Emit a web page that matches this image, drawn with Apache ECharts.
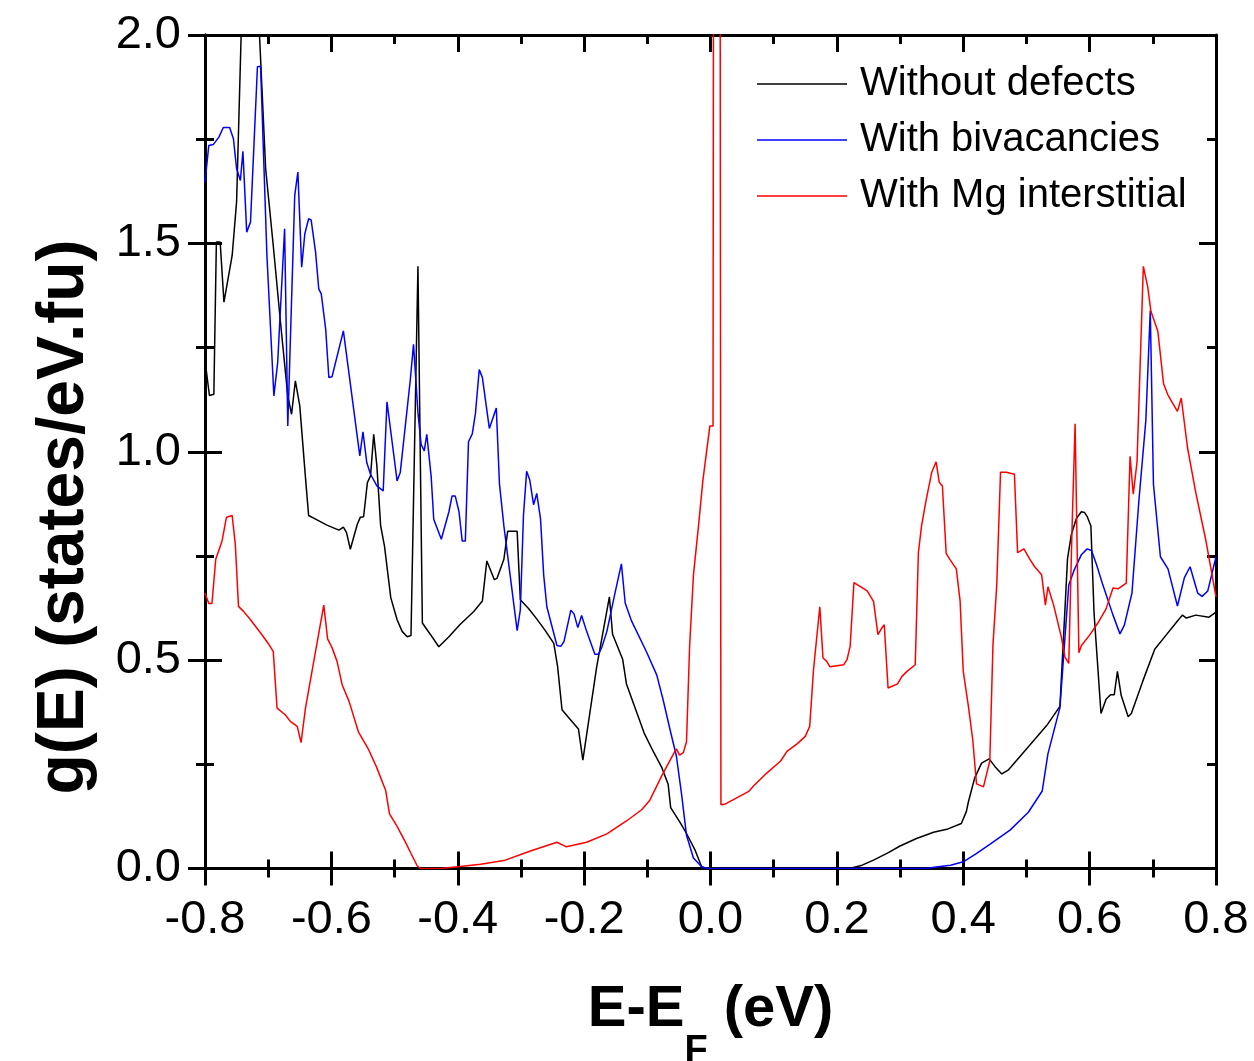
<!DOCTYPE html>
<html>
<head>
<meta charset="utf-8">
<script src="https://cdn.jsdelivr.net/npm/echarts@6/dist/echarts.min.js"></script>
<style>
  html, body { margin: 0; padding: 0; background: #fff; }
  #chart { width: 1254px; height: 1061px; }
</style>
</head>
<body>
<div id="chart"></div>
<script>
// series names
const seriesNames = ['Without defects', 'With bivacancies', 'With Mg interstitial']

// [E-EF (eV), g(E)]
const withoutDefects = [
    [-0.800, 1.22], [-0.793, 1.135], [-0.786, 1.138], [-0.782, 1.503], [-0.776, 1.503],
    [-0.770, 1.359], [-0.757, 1.471], [-0.750, 1.600], [-0.732, 2.6], [-0.704, 1.679],
    [-0.692, 1.495], [-0.681, 1.318], [-0.669, 1.134], [-0.663, 1.090], [-0.657, 1.170],
    [-0.650, 1.110], [-0.641, 0.938], [-0.636, 0.847], [-0.622, 0.836], [-0.607, 0.824],
    [-0.588, 0.812], [-0.581, 0.819], [-0.576, 0.806], [-0.570, 0.766], [-0.559, 0.826],
    [-0.554, 0.843], [-0.549, 0.844], [-0.543, 0.926], [-0.538, 0.942], [-0.533, 1.042],
    [-0.528, 0.966], [-0.522, 0.822], [-0.516, 0.774], [-0.506, 0.650], [-0.496, 0.597],
    [-0.488, 0.569], [-0.480, 0.556], [-0.474, 0.559], [-0.463, 1.445], [-0.456, 0.589],
    [-0.443, 0.561], [-0.430, 0.532], [-0.414, 0.556], [-0.396, 0.586], [-0.375, 0.616],
    [-0.361, 0.642], [-0.354, 0.738], [-0.342, 0.693], [-0.338, 0.696], [-0.327, 0.742],
    [-0.321, 0.809], [-0.306, 0.809], [-0.301, 0.645], [-0.288, 0.624], [-0.275, 0.599],
    [-0.262, 0.572], [-0.248, 0.540], [-0.242, 0.485], [-0.235, 0.381], [-0.225, 0.363],
    [-0.209, 0.335], [-0.202, 0.260], [-0.180, 0.485], [-0.160, 0.652], [-0.155, 0.562],
    [-0.139, 0.502], [-0.133, 0.443], [-0.119, 0.384], [-0.105, 0.325], [-0.091, 0.282],
    [-0.077, 0.242], [-0.067, 0.202], [-0.063, 0.146], [-0.048, 0.110], [-0.038, 0.084],
    [-0.025, 0.046], [-0.014, 0.004], [-0.006, 0], [0.220, 0], [0.240, 0.008],
    [0.258, 0.020], [0.280, 0.037], [0.300, 0.054], [0.326, 0.072], [0.353, 0.087],
    [0.374, 0.094], [0.397, 0.108], [0.405, 0.137], [0.408, 0.159], [0.418, 0.217],
    [0.429, 0.253], [0.441, 0.263], [0.450, 0.245], [0.461, 0.227], [0.471, 0.236],
    [0.500, 0.287], [0.532, 0.343], [0.553, 0.389], [0.561, 0.623], [0.565, 0.743],
    [0.571, 0.801], [0.579, 0.840], [0.587, 0.856], [0.592, 0.854], [0.596, 0.845],
    [0.602, 0.822], [0.607, 0.613], [0.618, 0.372], [0.626, 0.406], [0.633, 0.417],
    [0.639, 0.417], [0.644, 0.473], [0.650, 0.415], [0.661, 0.364], [0.666, 0.372],
    [0.684, 0.449], [0.703, 0.526], [0.721, 0.560], [0.739, 0.594], [0.747, 0.608],
    [0.753, 0.601], [0.768, 0.608], [0.789, 0.603], [0.800, 0.615],
]

const withBivacancies = [
    [-0.800, 1.647], [-0.794, 1.735], [-0.787, 1.737], [-0.778, 1.755], [-0.771, 1.778],
    [-0.761, 1.778], [-0.755, 1.751], [-0.750, 1.679], [-0.744, 1.651], [-0.740, 1.721],
    [-0.734, 1.527], [-0.728, 1.551], [-0.717, 1.924], [-0.712, 1.925], [-0.702, 1.471],
    [-0.691, 1.134], [-0.685, 1.214], [-0.674, 1.535], [-0.669, 1.062], [-0.658, 1.615],
    [-0.653, 1.671], [-0.647, 1.443], [-0.642, 1.523], [-0.636, 1.559], [-0.632, 1.556],
    [-0.625, 1.479], [-0.620, 1.391], [-0.616, 1.379], [-0.609, 1.294], [-0.604, 1.178],
    [-0.599, 1.180], [-0.581, 1.290], [-0.555, 0.990], [-0.550, 1.048], [-0.544, 0.974],
    [-0.538, 0.946], [-0.528, 0.918], [-0.518, 0.906], [-0.512, 1.120], [-0.496, 0.930],
    [-0.491, 0.950], [-0.475, 1.174], [-0.470, 1.258], [-0.463, 1.094], [-0.458, 1.018],
    [-0.453, 1.002], [-0.449, 1.042], [-0.442, 0.939], [-0.438, 0.838], [-0.426, 0.790],
    [-0.414, 0.856], [-0.409, 0.894], [-0.404, 0.894], [-0.398, 0.856], [-0.393, 0.786],
    [-0.388, 0.786], [-0.383, 1.024], [-0.377, 1.043], [-0.372, 1.092], [-0.366, 1.197],
    [-0.361, 1.178], [-0.350, 1.056], [-0.339, 1.105], [-0.334, 0.923], [-0.327, 0.822],
    [-0.306, 0.571], [-0.301, 0.620], [-0.296, 0.847], [-0.291, 0.953], [-0.286, 0.932],
    [-0.280, 0.873], [-0.275, 0.900], [-0.269, 0.839], [-0.264, 0.704], [-0.259, 0.628],
    [-0.243, 0.535], [-0.237, 0.533], [-0.232, 0.544], [-0.221, 0.620], [-0.216, 0.611],
    [-0.210, 0.578], [-0.204, 0.607], [-0.196, 0.569], [-0.183, 0.514], [-0.177, 0.514],
    [-0.172, 0.531], [-0.164, 0.569], [-0.151, 0.662], [-0.141, 0.731], [-0.135, 0.637],
    [-0.125, 0.594], [-0.101, 0.519], [-0.085, 0.464], [-0.075, 0.405], [-0.064, 0.333],
    [-0.054, 0.270], [-0.046, 0.181], [-0.038, 0.080], [-0.027, 0.025], [-0.014, 0.004],
    [-0.006, 0], [0.340, 0], [0.360, 0.004], [0.380, 0.008], [0.400, 0.016],
    [0.420, 0.035], [0.442, 0.058], [0.474, 0.092], [0.503, 0.135], [0.525, 0.186],
    [0.534, 0.275], [0.553, 0.386], [0.561, 0.555], [0.567, 0.680], [0.575, 0.714],
    [0.587, 0.753], [0.596, 0.767], [0.603, 0.763], [0.611, 0.729], [0.621, 0.680],
    [0.637, 0.608], [0.648, 0.563], [0.655, 0.584], [0.667, 0.661], [0.678, 0.883],
    [0.689, 1.076], [0.696, 1.339], [0.701, 0.922], [0.712, 0.748], [0.724, 0.719],
    [0.739, 0.630], [0.750, 0.698], [0.759, 0.724], [0.771, 0.661], [0.778, 0.653],
    [0.787, 0.666], [0.800, 0.748],
]

const withMgInterstitial = [
    [-0.800, 0.661], [-0.794, 0.636], [-0.789, 0.636], [-0.783, 0.742], [-0.773, 0.786],
    [-0.766, 0.843], [-0.757, 0.847], [-0.752, 0.777], [-0.747, 0.629], [-0.739, 0.617],
    [-0.728, 0.597], [-0.712, 0.565], [-0.699, 0.538], [-0.692, 0.521], [-0.686, 0.385],
    [-0.673, 0.369], [-0.665, 0.353], [-0.654, 0.341], [-0.648, 0.302], [-0.641, 0.385],
    [-0.633, 0.453], [-0.612, 0.632], [-0.606, 0.551], [-0.599, 0.530], [-0.591, 0.497],
    [-0.583, 0.441], [-0.572, 0.401], [-0.557, 0.327], [-0.541, 0.285], [-0.529, 0.245],
    [-0.514, 0.187], [-0.508, 0.131], [-0.496, 0.101], [-0.483, 0.064], [-0.474, 0.036],
    [-0.464, 0.006], [-0.459, 0], [-0.427, 0], [-0.400, 0.004], [-0.364, 0.010],
    [-0.327, 0.019], [-0.285, 0.042], [-0.243, 0.063], [-0.228, 0.052], [-0.196, 0.063],
    [-0.164, 0.083], [-0.133, 0.114], [-0.109, 0.141], [-0.096, 0.164], [-0.077, 0.223],
    [-0.059, 0.274], [-0.054, 0.287], [-0.049, 0.272], [-0.043, 0.278], [-0.038, 0.304],
    [-0.033, 0.535], [-0.027, 0.704], [-0.019, 0.822], [-0.012, 0.932], [-0.001, 1.062],
    [0.004, 1.062], [0.005, 2.6], [0.015, 2.6], [0.0165, 0.153], [0.0237, 0.155],
    [0.037, 0.166], [0.0605, 0.185], [0.068, 0.198], [0.089, 0.229], [0.111, 0.258],
    [0.121, 0.281], [0.137, 0.299], [0.150, 0.317], [0.157, 0.341], [0.163, 0.477],
    [0.173, 0.628], [0.178, 0.505], [0.184, 0.497], [0.189, 0.484], [0.211, 0.489],
    [0.216, 0.501], [0.221, 0.533], [0.227, 0.686], [0.248, 0.666], [0.258, 0.641],
    [0.265, 0.561], [0.271, 0.577], [0.275, 0.585], [0.281, 0.433], [0.296, 0.443],
    [0.303, 0.461], [0.311, 0.473], [0.324, 0.489], [0.329, 0.758], [0.334, 0.822],
    [0.341, 0.882], [0.350, 0.950], [0.357, 0.976], [0.362, 0.927], [0.367, 0.918],
    [0.373, 0.756], [0.379, 0.741], [0.389, 0.719], [0.395, 0.642], [0.400, 0.473],
    [0.408, 0.391], [0.415, 0.309], [0.421, 0.203], [0.432, 0.196], [0.437, 0.227],
    [0.442, 0.258], [0.447, 0.536], [0.453, 0.680], [0.459, 0.951], [0.468, 0.951],
    [0.481, 0.946], [0.486, 0.758], [0.496, 0.767], [0.505, 0.743], [0.513, 0.724],
    [0.524, 0.705], [0.530, 0.632], [0.534, 0.676], [0.543, 0.632], [0.555, 0.557],
    [0.561, 0.507], [0.567, 0.492], [0.572, 0.806], [0.577, 1.067], [0.583, 0.518],
    [0.587, 0.535], [0.600, 0.560], [0.613, 0.589], [0.626, 0.623], [0.637, 0.673],
    [0.645, 0.671], [0.658, 0.685], [0.664, 0.989], [0.669, 0.898], [0.675, 0.975],
    [0.685, 1.445], [0.692, 1.395], [0.697, 1.337], [0.708, 1.289], [0.717, 1.163],
    [0.724, 1.136], [0.739, 1.097], [0.745, 1.129], [0.755, 1.009], [0.768, 0.902],
    [0.784, 0.787], [0.800, 0.652],
]

const chart = echarts.init(document.getElementById('chart'))
const FONT = 'Liberation Sans, Arial, sans-serif'
const black = '#000000'

// ticks cross the axis line, so each side gets its own axis
function xAx(position, inside, withLabels) {
    return {
        type: 'value',
        position: position,
        min: -0.8,
        max: 0.8,
        interval: 0.2,
        splitLine: { show: false },
        axisLine: { show: true, onZero: false, lineStyle: { color: black, width: 3 } },
        axisTick: { show: true, inside: inside, length: 17, lineStyle: { color: black, width: 3 } },
        minorTick: { show: true, splitNumber: 2, length: 9, lineStyle: { color: black, width: 3 } },
        axisLabel: {
            show: withLabels,
            color: black,
            fontSize: 47,
            fontFamily: FONT,
            margin: 28,
            formatter: v => v.toFixed(1),
        },
    }
}
function yAx(position, inside, withLabels) {
    return {
        type: 'value',
        position: position,
        min: 0,
        max: 2,
        interval: 0.5,
        splitLine: { show: false },
        axisLine: { show: true, onZero: false, lineStyle: { color: black, width: 3 } },
        axisTick: { show: true, inside: inside, length: 17, lineStyle: { color: black, width: 3 } },
        minorTick: { show: true, splitNumber: 2, length: 9, lineStyle: { color: black, width: 3 } },
        axisLabel: {
            show: withLabels,
            color: black,
            fontSize: 47,
            fontFamily: FONT,
            margin: 24,
            formatter: v => v.toFixed(1),
        },
    }
}

const xMain = xAx('bottom', false, true)
xMain.name = '{a|E-E}{b|F}{a| (eV)}'
xMain.nameLocation = 'middle'
xMain.nameGap = 112
xMain.nameTextStyle = {
    rich: {
        a: { fontSize: 58, fontWeight: 'bold', fontFamily: FONT, color: black, verticalAlign: 'top' },
        b: { fontSize: 38, fontWeight: 'bold', fontFamily: FONT, color: black, verticalAlign: 'top', padding: [52, 0, 0, 0] },
    },
}

const lineSeries = (name, data, color) => ({
    name: name,
    type: 'line',
    data: data,
    symbol: 'none',
    showSymbol: false,
    clip: true,
    color: color,
    lineStyle: { color: color, width: 1.5 },
})

const option = {
    animation: false,
    backgroundColor: '#ffffff',
    grid: { left: 205, right: 38, top: 35, bottom: 192.5, containLabel: false, outerBoundsMode: 'none' },
    xAxis: [xMain, xAx('bottom', true, false), xAx('top', true, false)],
    yAxis: [yAx('left', false, true), yAx('left', true, false), yAx('right', true, false)],
    legend: {
        show: true,
        data: seriesNames,
        orient: 'vertical',
        left: 752,
        top: 56,
        icon: 'rect',
        itemWidth: 90,
        itemHeight: 1.5,
        itemGap: 10,
        textStyle: { fontSize: 40, fontFamily: FONT, color: black, lineHeight: 46, padding: [0, 0, 0, 8] },
    },
    graphic: [
        {
            type: 'text',
            x: 65,
            y: 517,
            rotation: Math.PI / 2,
            style: {
                text: 'g(E) (states/eV.fu)',
                font: 'bold 66px Liberation Sans, Arial, sans-serif',
                fill: black,
                align: 'center',
                verticalAlign: 'middle',
            },
        },
    ],
    series: [
        lineSeries(seriesNames[0], withoutDefects, '#000000'),
        lineSeries(seriesNames[1], withBivacancies, '#0000ff'),
        lineSeries(seriesNames[2], withMgInterstitial, '#ff0000'),
    ],
}
chart.setOption(option)
</script>
</body>
</html>
